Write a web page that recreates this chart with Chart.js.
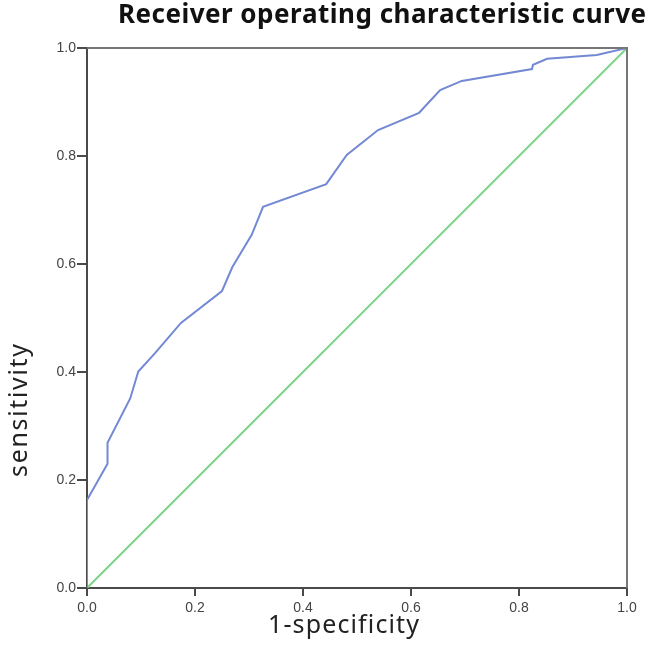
<!DOCTYPE html>
<html>
<head>
<meta charset="utf-8">
<script src="https://cdn.jsdelivr.net/npm/chart.js@4.4.1/dist/chart.umd.min.js"></script>
<style>
  html, body { margin: 0; padding: 0; background: #fff; }
</style>
</head>
<body>
<canvas id="roc" width="649" height="646"></canvas>
<script>
// ROC curve
const fprValues = [0, 0, 0.021, 0.038, 0.038, 0.080, 0.095, 0.126, 0.174, 0.250, 0.269, 0.305, 0.326,
  0.443, 0.481, 0.539, 0.615, 0.654, 0.694, 0.824, 0.826, 0.852, 0.944, 1.0];
const tprValues = [0, 0.163, 0.200, 0.230, 0.269, 0.351, 0.401, 0.435, 0.491, 0.550, 0.594, 0.654, 0.706,
  0.748, 0.802, 0.848, 0.880, 0.922, 0.939, 0.961, 0.969, 0.980, 0.987, 1.0];
// chance line
const refX = [0, 1];
const refY = [0, 1];
const tickValues = [0, 0.2, 0.4, 0.6, 0.8, 1.0];

const chartTitle = 'Receiver operating characteristic curve';
const xLabel = '1-specificity';
const yLabel = 'sensitivity';

const axisColor = '#4a4a4a';
const frameColor = '#777';
const tickFont = { family: 'Liberation Sans', size: 14 };

function toPoints(xs, ys) {
  return xs.map(function(x, i) { return { x: x, y: ys[i] }; });
}

// draws text from (x, y) spread to the given width, char by char
function spreadText(ctx, text, x, y, width) {
  var total = 0;
  var widths = [];
  for (var i = 0; i < text.length; i++) {
    var w = ctx.measureText(text[i]).width;
    widths.push(w);
    total += w;
  }
  var gap = text.length > 1 ? (width - total) / (text.length - 1) : 0;
  ctx.textAlign = 'left';
  for (var j = 0; j < text.length; j++) {
    ctx.fillText(text[j], x, y);
    x += widths[j] + gap;
  }
}

// title, axis titles and the top/right sides of the box
const decorPlugin = {
  id: 'decor',
  afterDraw: function(chart) {
    var ctx = chart.ctx;
    var a = chart.chartArea;
    ctx.save();
    ctx.strokeStyle = frameColor;
    ctx.lineWidth = 2;
    ctx.beginPath();
    ctx.moveTo(a.left, a.top);
    ctx.lineTo(a.right, a.top);
    ctx.lineTo(a.right, a.bottom);
    ctx.stroke();

    ctx.textBaseline = 'alphabetic';
    ctx.fillStyle = '#111';
    ctx.font = 'bold 26px "Noto Sans"';
    spreadText(ctx, chartTitle, 118, 23, 528);

    ctx.fillStyle = '#222';
    ctx.font = '25px "Noto Sans"';
    spreadText(ctx, xLabel, 268, 633, 151);

    ctx.translate(27, 477);
    ctx.rotate(-Math.PI / 2);
    spreadText(ctx, yLabel, 0, 0, 133);
    ctx.restore();
  }
};

new Chart(document.getElementById('roc'), {
  type: 'scatter',
  data: {
    datasets: [
      {
        label: 'ROC',
        data: toPoints(fprValues, tprValues),
        showLine: true,
        borderColor: '#7389d3',
        borderWidth: 2,
        pointRadius: 0,
        tension: 0
      },
      {
        label: 'reference',
        data: toPoints(refX, refY),
        showLine: true,
        borderColor: '#7fd48c',
        borderWidth: 2,
        pointRadius: 0
      }
    ]
  },
  options: {
    responsive: false,
    animation: false,
    layout: { padding: { top: 48, right: 22, left: 0, bottom: 0 } },
    plugins: {
      legend: { display: false },
      tooltip: { enabled: false }
    },
    scales: {
      x: {
        type: 'linear', min: 0, max: 1,
        afterFit: function(s) { s.height = 58; },
        afterBuildTicks: function(s) { s.ticks = tickValues.map(function(v) { return { value: v }; }); },
        ticks: {
          font: tickFont, color: '#444', padding: 4, maxRotation: 0,
          callback: function(v) { return v.toFixed(1); }
        },
        grid: { drawOnChartArea: false, drawTicks: true, tickLength: 8, color: axisColor, lineWidth: 2 },
        border: { color: axisColor, width: 2 }
      },
      y: {
        type: 'linear', min: 0, max: 1,
        afterFit: function(s) { s.width = 87; },
        afterBuildTicks: function(s) { s.ticks = tickValues.map(function(v) { return { value: v }; }); },
        ticks: {
          font: tickFont, color: '#444', padding: 1,
          callback: function(v) { return v.toFixed(1); }
        },
        grid: { drawOnChartArea: false, drawTicks: true, tickLength: 10, color: axisColor, lineWidth: 2 },
        border: { color: axisColor, width: 2 }
      }
    }
  },
  plugins: [decorPlugin]
});
</script>
</body>
</html>
